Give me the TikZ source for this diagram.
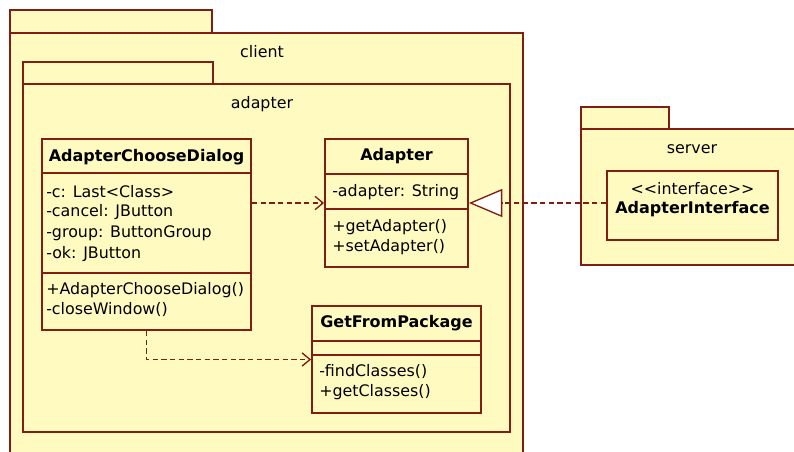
\documentclass[tikz,border=0pt]{standalone}
\usepackage{fontspec}
\setmainfont{DejaVu Sans}
\usetikzlibrary{arrows.meta,fit}
\definecolor{umlfill}{RGB}{255,251,192}
\definecolor{umlline}{RGB}{128,30,20}
\tikzset{
  box/.style={draw=umlline, fill=umlfill, line width=1.4pt, inner sep=0pt},
  pkgbox/.style={box},
  classbox/.style={box},
  txt/.style={inner sep=0pt, font=\fontsize{11.9pt}{13pt}\selectfont, text=black},
  memb/.style={txt, anchor=west},
  ttl/.style={txt, font=\fontsize{12pt}{13pt}\selectfont\bfseries},
  sep/.style={draw=umlline, line width=1.4pt},
  dep/.style={draw=umlline, line width=1pt, dash pattern=on 4pt off 2.5pt,
              -{Straight Barb[length=6pt,width=10pt,line width=1pt]}},
  real/.style={draw=umlline, line width=1pt, dash pattern=on 4pt off 2.5pt,
               -{Triangle[length=25pt,width=21pt,fill=white,line width=1pt]}}
}
\begin{document}
\begin{tikzpicture}[x=0.75pt,y=-0.75pt]
\clip (0,0) rectangle (794,452);
\fill[white] (0,0) rectangle (794,452);

% package client
\node[pkgbox, fit={(10,10) (212,33)}] (clienttab) {};
\node[pkgbox, fit={(10,33) (523,480)}] (client) {};
\node[txt] (clientlbl) at (262,52) {client};

% package adapter
\node[pkgbox, fit={(23,62) (213,84)}] (adaptertab) {};
\node[pkgbox, fit={(23,84) (510,432)}] (adapterpkg) {};
\node[txt] (adapterlbl) at (262,104) {adapter};

% package server
\node[pkgbox, fit={(581,107) (669,129)}] (servertab) {};
\node[pkgbox, fit={(581,129) (810,265)}] (server) {};
\node[txt] (serverlbl) at (692,149) {server};

% class AdapterChooseDialog
\node[classbox, fit={(42,139) (251,330)}] (acd) {};
\draw[sep] (42,173) -- (251,173);
\draw[sep] (42,273) -- (251,273);
\node[ttl] (acdname) at (146.5,157) {AdapterChooseDialog};
\node[memb] (acda1) at (46,192) {-c: Last{<}Class{>}};
\node[memb] (acda2) at (46,212) {-cancel: JButton};
\node[memb] (acda3) at (46,233) {-group: ButtonGroup};
\node[memb] (acda4) at (46,254) {-ok: JButton};
\node[memb] (acdm1) at (46,290) {+AdapterChooseDialog()};
\node[memb] (acdm2) at (46,310) {-closeWindow()};

% class Adapter
\node[classbox, fit={(325,139) (468,267)}] (adapter) {};
\draw[sep] (325,174) -- (468,174);
\draw[sep] (325,209) -- (468,209);
\node[ttl] (adname) at (396.5,156) {Adapter};
\node[memb] (ada1) at (332,192) {-adapter: String};
\node[memb] (adm1) at (332,227) {+getAdapter()};
\node[memb] (adm2) at (332,247) {+setAdapter()};

% class GetFromPackage
\node[classbox, fit={(312,306) (481,413)}] (gfp) {};
\draw[sep] (312,341) -- (481,341);
\draw[sep] (312,355) -- (481,355);
\node[ttl] (gfpname) at (396.5,323) {GetFromPackage};
\node[memb] (gfpm1) at (319,372) {-findClasses()};
\node[memb] (gfpm2) at (319,392) {+getClasses()};

% interface AdapterInterface
\node[classbox, fit={(607,171) (778,240)}] (ai) {};
\node[txt] (aistereo) at (692.5,189) {{<}{<}interface{>}{>}};
\node[ttl] (ainame) at (692.5,209) {AdapterInterface};

% connectors
\draw[dep] (acd.east |- adapter.west) -- (adapter.west);
\draw[dep] (acd.south) |- (gfp.west);
\draw[real] (ai.west |- adapter.east) -- (adapter.east);
\end{tikzpicture}
\end{document}
